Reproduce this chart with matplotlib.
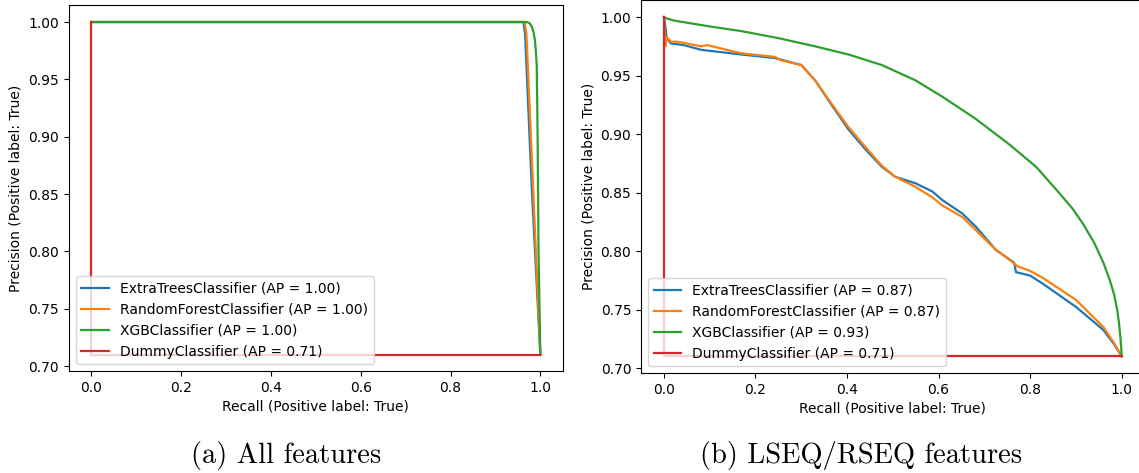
import numpy as np
import matplotlib
matplotlib.use("Agg")
import matplotlib.pyplot as plt

# legend labels
names_a = ["ExtraTreesClassifier (AP = 1.00)", "RandomForestClassifier (AP = 1.00)",
           "XGBClassifier (AP = 1.00)", "DummyClassifier (AP = 0.71)"]
names_b = ["ExtraTreesClassifier (AP = 0.87)", "RandomForestClassifier (AP = 0.87)",
           "XGBClassifier (AP = 0.93)", "DummyClassifier (AP = 0.71)"]
colors = ["#1f77b4", "#ff7f0e", "#2ca02c", "#d62728"]

# (a) all features - curves
et_a_recall = [0.0, 0.962, 0.966, 0.981, 1.0]
et_a_prec = [1.0, 1.0, 0.99, 0.855, 0.71]
rf_a_recall = [0.0, 0.965, 0.969, 0.984, 1.0]
rf_a_prec = [1.0, 1.0, 0.99, 0.855, 0.71]
xgb_a_recall = [0.0, 0.970, 0.976, 0.981, 0.985, 0.988, 0.990, 0.992, 0.994, 0.996, 1.0]
xgb_a_prec = [1.0, 1.0, 0.999, 0.996, 0.991, 0.984, 0.975, 0.962, 0.90, 0.80, 0.71]

# (b) LSEQ/RSEQ features
et_b_recall = [0.0, 0.002, 0.004, 0.006, 0.015, 0.044, 0.081, 0.169, 0.242, 0.30,
               0.33, 0.366, 0.403, 0.44, 0.476, 0.505, 0.549, 0.586, 0.608, 0.652,
               0.681, 0.725, 0.747, 0.765, 0.769, 0.80, 0.828, 0.901, 0.96, 0.984, 1.0]
et_b_prec = [1.0, 0.995, 0.989, 0.982, 0.9775, 0.976, 0.972, 0.968, 0.965, 0.959,
             0.946, 0.925, 0.904, 0.887, 0.872, 0.8635, 0.858, 0.851, 0.8436, 0.832,
             0.821, 0.801, 0.795, 0.790, 0.782, 0.779, 0.772, 0.752, 0.7325, 0.72, 0.71]
rf_b_recall = [0.0, 0.003, 0.006, 0.015, 0.029, 0.081, 0.095, 0.169, 0.242, 0.256,
               0.30, 0.33, 0.366, 0.403, 0.44, 0.476, 0.505, 0.549, 0.586, 0.608,
               0.652, 0.681, 0.725, 0.747, 0.772, 0.80, 0.828, 0.901, 0.96, 0.984, 1.0]
rf_b_prec = [1.0, 0.975, 0.983, 0.979, 0.979, 0.975, 0.976, 0.969, 0.966, 0.963,
             0.959, 0.946, 0.926, 0.906, 0.889, 0.873, 0.8635, 0.855, 0.846, 0.839,
             0.829, 0.818, 0.801, 0.795, 0.787, 0.783, 0.777, 0.758, 0.735, 0.721, 0.71]
xgb_b_recall = [0.0, 0.005, 0.022, 0.1, 0.169, 0.25, 0.33, 0.403, 0.476, 0.549, 0.608,
                0.681, 0.755, 0.813, 0.865, 0.893, 0.916, 0.94, 0.96, 0.975, 0.984,
                0.990, 0.994, 0.997, 0.999, 1.0]
xgb_b_prec = [1.0, 0.999, 0.997, 0.992, 0.988, 0.982, 0.975, 0.968, 0.959, 0.946, 0.932,
              0.913, 0.891, 0.872, 0.849, 0.836, 0.823, 0.807, 0.790, 0.774, 0.762,
              0.750, 0.739, 0.727, 0.717, 0.71]

# dummy classifier: same in both panels
dummy_recall = [1.0, 0.0, 0.0]
dummy_prec = [0.71, 0.71, 1.0]

fig = plt.figure(figsize=(11.39, 4.73), dpi=100)
ax_a = fig.add_axes([0.0604, 0.2152, 0.4337, 0.7734])
ax_b = fig.add_axes([0.5628, 0.2108, 0.4421, 0.789])

curves_a = [(et_a_recall, et_a_prec), (rf_a_recall, rf_a_prec),
            (xgb_a_recall, xgb_a_prec), (dummy_recall, dummy_prec)]
curves_b = [(et_b_recall, et_b_prec), (rf_b_recall, rf_b_prec),
            (xgb_b_recall, xgb_b_prec), (dummy_recall, dummy_prec)]

for ax, curves, names in [(ax_a, curves_a, names_a), (ax_b, curves_b, names_b)]:
    for (r, p), name, c in zip(curves, names, colors):
        ax.plot(r, p, color=c, lw=1.6, label=name)
    ax.set_xlabel("Recall (Positive label: True)", fontsize=10, labelpad=3)
    ax.set_ylabel("Precision (Positive label: True)", fontsize=10)
    ax.tick_params(labelsize=10)
    ax.set_xticks([0.0, 0.2, 0.4, 0.6, 0.8, 1.0])
    ax.set_yticks([0.70, 0.75, 0.80, 0.85, 0.90, 0.95, 1.00])
    ax.legend(loc="lower left", fontsize=10)

fig.text(0.251, 0.038, "(a) All features", family="cmr10", fontsize=20.5,
         ha="center", va="center")
fig.text(0.756, 0.038, "(b) LSEQ/RSEQ features", family="cmr10", fontsize=20.5,
         ha="center", va="center")

fig.savefig("out.png", dpi=100)
